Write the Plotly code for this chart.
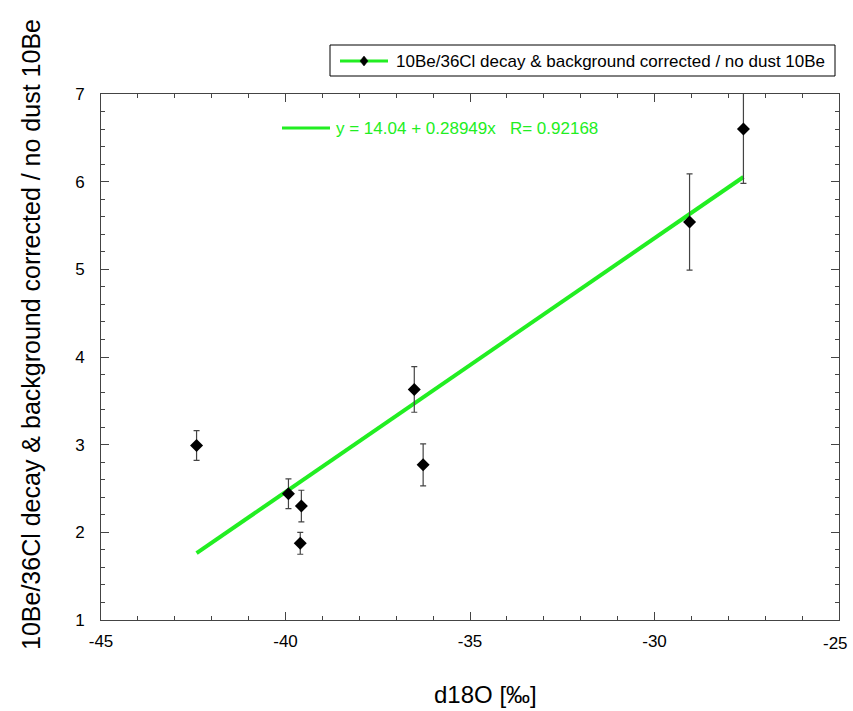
import plotly.graph_objects as go

d18O = [-42.41, -39.92, -39.57, -39.6, -36.51, -36.27, -29.05, -27.59]
ratio = [2.99, 2.44, 2.30, 1.875, 3.63, 2.77, 5.54, 6.60]
ratio_err = [0.17, 0.17, 0.18, 0.125, 0.26, 0.24, 0.55, 0.62]
fit_a = 14.04
fit_b = 0.28949
fit_r = 0.92168
series_name = "10Be/36Cl decay & background corrected / no dust 10Be"
x_ticks = [-45, -40, -35, -30, -25]
x_tick_labels = ["-45", "-40", "-35", "-30", "-25"]
y_ticks = [1, 2, 3, 4, 5, 6, 7]
y_tick_labels = ["1", "2", "3", "4", "5", "6", "7"]

xmin, xmax = min(d18O), max(d18O)
fit_x = [xmin, xmax]
fit_y = [fit_a + fit_b * v for v in fit_x]

FONT = "Liberation Sans, Arial, Helvetica, sans-serif"
GREEN = "#22ee22"

W, H = 853, 711
L, R, T, B = 101, 14, 94, 91
PW, PH = W - L - R, H - T - B


def px(xp):
    return (xp - L) / PW


def py(yp):
    return (H - B - yp) / PH


fig = go.Figure()
fig.add_trace(go.Scatter(x=fit_x, y=fit_y, mode="lines",
                         line=dict(color=GREEN, width=4), showlegend=False, hoverinfo="skip"))
fig.add_trace(go.Scatter(x=d18O, y=ratio, mode="markers", name=series_name,
                         marker=dict(symbol="diamond", color="black", size=10),
                         error_y=dict(type="data", array=ratio_err, color="#444444",
                                      thickness=1.2, width=3),
                         showlegend=False))

# last x tick label is drawn as an annotation so it never spills past the page edge
axis_x_text = x_tick_labels[:-1] + [""]

axis_common = dict(showline=True, linecolor="#444444", linewidth=1, mirror="ticks",
                   ticks="inside", ticklen=8, tickcolor="#444444", showgrid=False,
                   zeroline=False,
                   tickfont=dict(family=FONT, size=17, color="black"))
fig.update_xaxes(range=[-45, -25], tickmode="array", tickvals=x_ticks,
                 ticktext=axis_x_text, ticklabelstandoff=6,
                 minor=dict(dtick=1, ticks="inside", ticklen=4, tickcolor="#444444"),
                 **axis_common)
fig.update_yaxes(range=[1, 7], tickmode="array", tickvals=y_ticks,
                 ticktext=y_tick_labels, ticklabelstandoff=12,
                 minor=dict(dtick=0.2, ticks="inside", ticklen=4, tickcolor="#444444"),
                 **axis_common)
fig.add_annotation(xref="paper", yref="paper", x=px(850), y=py(643), xanchor="right",
                   yanchor="middle", showarrow=False, text=x_tick_labels[-1],
                   font=dict(family=FONT, size=17, color="black"))

# fit annotation
fig.add_shape(type="line", xref="paper", yref="paper", x0=px(282), x1=px(330),
              y0=py(128), y1=py(128), line=dict(color=GREEN, width=3))
fig.add_annotation(xref="paper", yref="paper", x=px(334), y=py(128), xanchor="left",
                   yanchor="middle", showarrow=False,
                   text=f"y = {fit_a} + {fit_b}x   R= {fit_r}",
                   font=dict(family=FONT, size=17, color=GREEN))

# legend box (drawn)
fig.add_shape(type="rect", xref="paper", yref="paper", x0=px(330), x1=px(835),
              y0=py(76), y1=py(45), line=dict(color="black", width=1),
              fillcolor="white", layer="above")
fig.add_shape(type="line", xref="paper", yref="paper", x0=px(340), x1=px(388),
              y0=py(61), y1=py(61), line=dict(color=GREEN, width=3), layer="above")
dx, dy = 4 / PW, 5 / PH
cx, cy = px(364), py(61)
fig.add_shape(type="path", xref="paper", yref="paper",
              path=f"M {cx - dx} {cy} L {cx} {cy + dy} L {cx + dx} {cy} L {cx} {cy - dy} Z",
              fillcolor="black", line=dict(color="black", width=0.5), layer="above")
fig.add_annotation(xref="paper", yref="paper", x=px(394), y=py(61), xanchor="left",
                   yanchor="middle", showarrow=False, text=series_name,
                   font=dict(family=FONT, size=17, color="black"))

# axis titles
fig.add_annotation(xref="paper", yref="paper", x=px(485), y=py(694), xanchor="center",
                   yanchor="middle", showarrow=False, text="d18O [‰]",
                   font=dict(family=FONT, size=24, color="black"))
fig.add_annotation(xref="paper", yref="paper", x=px(31), y=py(335), xanchor="center",
                   yanchor="middle", showarrow=False, textangle=-90,
                   text=series_name,
                   font=dict(family=FONT, size=25, color="black"))

fig.update_layout(
    width=W, height=H,
    margin=dict(l=L, r=R, t=T, b=B),
    plot_bgcolor="white", paper_bgcolor="white",
    font=dict(family=FONT, color="black"),
    showlegend=False,
)

fig.write_html("out.html")
